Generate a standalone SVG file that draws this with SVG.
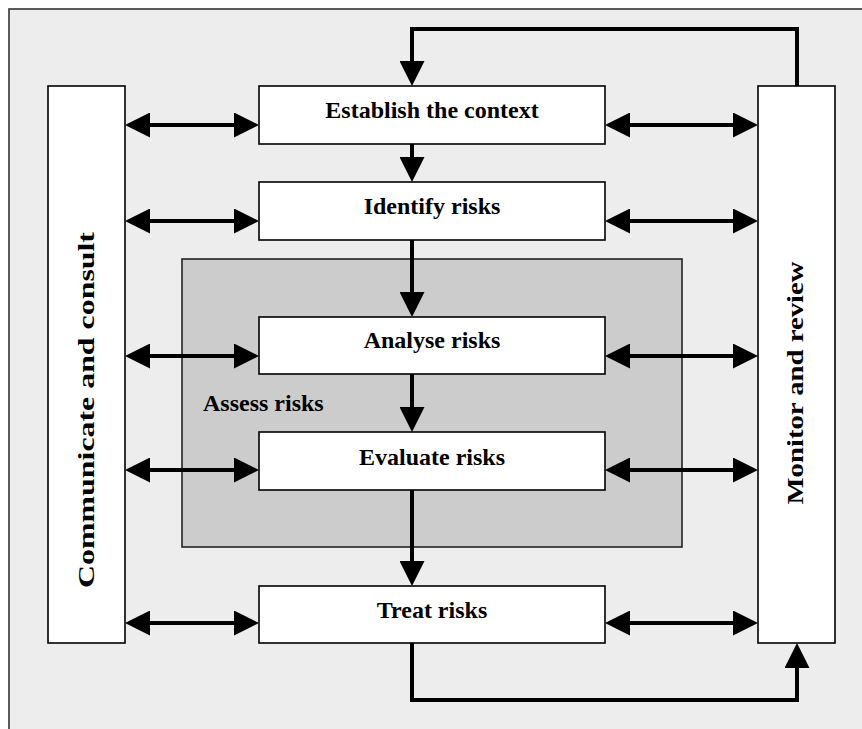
<svg xmlns="http://www.w3.org/2000/svg" width="862" height="729" viewBox="0 0 862 729">
<style>
.box{fill:#ffffff;stroke:#000;stroke-width:1.6}
.lbl{font-family:"Liberation Serif","Times New Roman",serif;font-weight:bold;font-size:24px;fill:#000}
.c{stroke:#000;stroke-width:4;fill:none}
</style>
<defs>
<marker id="ah" markerUnits="userSpaceOnUse" markerWidth="25" markerHeight="25" refX="15" refY="12.5" orient="auto-start-reverse" viewBox="0 0 25 25">
<path d="M0,0 L25,12.5 L0,25 z" fill="#000"/>
</marker>
</defs>
<rect x="9" y="9" width="880" height="740" fill="#ededed" stroke="#333" stroke-width="1.6"/>
<g id="assess">
<rect x="182" y="259" width="500" height="288" fill="#cccccc" stroke="#222" stroke-width="1.6"/>
<text class="lbl" x="203" y="411">Assess risks</text>
</g>
<g id="communicate">
<rect class="box" x="48" y="86" width="77" height="557"/>
<text class="lbl" transform="translate(94,410) rotate(-90)" text-anchor="middle" textLength="356" lengthAdjust="spacingAndGlyphs">Communicate and consult</text>
</g>
<g id="monitor">
<rect class="box" x="758" y="86" width="77" height="557"/>
<text class="lbl" transform="translate(803,383) rotate(-90)" text-anchor="middle" textLength="243" lengthAdjust="spacingAndGlyphs">Monitor and review</text>
</g>
<g id="establish">
<rect class="box" x="259" y="86" width="346" height="58"/>
<text class="lbl" x="432" y="118" text-anchor="middle">Establish the context</text>
</g>
<g id="identify">
<rect class="box" x="259" y="182" width="346" height="58"/>
<text class="lbl" x="432" y="214" text-anchor="middle">Identify risks</text>
</g>
<g id="analyse">
<rect class="box" x="259" y="317" width="346" height="57"/>
<text class="lbl" x="432" y="348" text-anchor="middle">Analyse risks</text>
</g>
<g id="evaluate">
<rect class="box" x="259" y="432" width="346" height="58"/>
<text class="lbl" x="432" y="465" text-anchor="middle">Evaluate risks</text>
</g>
<g id="treat">
<rect class="box" x="259" y="586" width="346" height="57"/>
<text class="lbl" x="432" y="618" text-anchor="middle">Treat risks</text>
</g>
<g id="connectors" class="c">
<path class="c" d="M135,125 H249" marker-start="url(#ah)" marker-end="url(#ah)"/>
<path class="c" d="M135,221 H249" marker-start="url(#ah)" marker-end="url(#ah)"/>
<path class="c" d="M135,356 H249" marker-start="url(#ah)" marker-end="url(#ah)"/>
<path class="c" d="M135,470 H249" marker-start="url(#ah)" marker-end="url(#ah)"/>
<path class="c" d="M135,623 H249" marker-start="url(#ah)" marker-end="url(#ah)"/>
<path class="c" d="M615,125 H748" marker-start="url(#ah)" marker-end="url(#ah)"/>
<path class="c" d="M615,221 H748" marker-start="url(#ah)" marker-end="url(#ah)"/>
<path class="c" d="M615,356 H748" marker-start="url(#ah)" marker-end="url(#ah)"/>
<path class="c" d="M615,470 H748" marker-start="url(#ah)" marker-end="url(#ah)"/>
<path class="c" d="M615,623 H748" marker-start="url(#ah)" marker-end="url(#ah)"/>
<path class="c" d="M412,144 V172" marker-end="url(#ah)"/>
<path class="c" d="M412,240 V307" marker-end="url(#ah)"/>
<path class="c" d="M412,374 V422" marker-end="url(#ah)"/>
<path class="c" d="M412,490 V576" marker-end="url(#ah)"/>
<path class="c" d="M797,86 V29 H412 V76" marker-end="url(#ah)"/>
<path class="c" d="M412,643 V700 H797 V653" marker-end="url(#ah)"/>
</g>
</svg>
